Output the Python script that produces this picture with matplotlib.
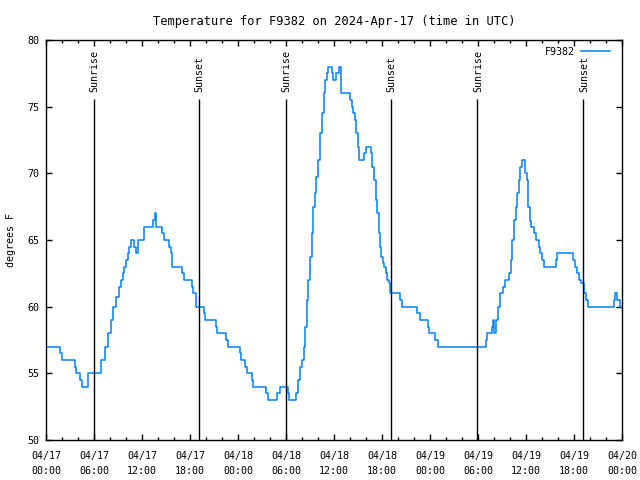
import matplotlib
matplotlib.use('Agg')
import matplotlib.pyplot as plt

# hours since 2024-04-17 00:00 UTC, step starts
hours = [0, 1.7, 2.0, 3.6, 3.75, 4.2, 4.5, 5.2, 6.9, 7.4, 7.8, 8.1, 8.4, 8.75, 9.1, 9.35,
         9.6, 9.8, 10.0, 10.2, 10.35, 10.6, 11.0, 11.2, 11.45, 12.25, 13.4, 13.6, 13.8,
         14.5, 14.7, 15.4, 15.6, 15.8, 17.0, 17.2, 18.2, 18.4, 18.8, 19.7, 19.9, 21.2,
         21.4, 22.5, 22.7, 24.25, 24.4, 24.9, 25.1, 25.7, 25.9, 27.5, 27.7, 28.9, 29.2,
         30.2, 30.4, 31.25, 31.5, 31.8, 32.0, 32.2, 32.4, 32.6, 32.8, 33.0, 33.2, 33.4,
         33.6, 33.8, 34.0, 34.25, 34.5, 34.7, 34.9, 35.1, 35.3, 35.8, 35.9, 36.3, 36.6,
         36.85, 38.0, 38.2, 38.4, 38.6, 38.8, 39.0, 39.1, 39.8, 40.0, 40.6, 40.8, 41.0,
         41.2, 41.4, 41.6, 41.75, 41.9, 42.1, 42.3, 42.5, 42.6, 42.9, 43.0, 44.2, 44.5,
         46.4, 46.7, 47.7, 47.9, 48.6, 49.0, 55.0, 55.1, 55.8, 55.9, 56.05, 56.2, 56.5,
         56.75, 57.1, 57.4, 57.9, 58.1, 58.3, 58.5, 58.7, 58.9, 59.15, 59.3, 59.5, 59.9,
         60.1, 60.3, 60.5, 60.6, 61.0, 61.3, 61.6, 61.8, 62.0, 62.2, 63.7, 63.9, 65.9,
         66.1, 66.4, 66.6, 66.9, 67.2, 67.5, 67.7, 71.0, 71.15, 71.4, 71.7, 72.0]
temps = [57, 56.5, 56, 55.5, 55, 54.5, 54, 55, 56, 57, 58, 59, 60, 60.75, 61.5, 62,
         62.5, 63, 63.5, 64, 64.5, 65, 64.5, 64, 65, 66, 66.5, 67, 66,
         65.5, 65, 64.5, 64, 63, 62.5, 62, 61.5, 61, 60, 59.5, 59, 58.5,
         58, 57.5, 57, 56.5, 56, 55.5, 55, 54.5, 54, 53.5, 53, 53.5, 54,
         53.5, 53, 53.5, 54.5, 55.5, 56, 57, 58.5, 60.5, 62, 63.75, 65.5, 67.5,
         68.5, 69.75, 71, 73, 74.5, 76, 77, 77.5, 78, 77.5, 77, 77.5, 78,
         76, 75.5, 75, 74.5, 74, 73, 72, 71, 71.5, 72, 71.5, 70.5, 69.5,
         68, 67, 65.5, 64.5, 63.75, 63.25, 63, 62.5, 62, 61.75, 61, 60.5, 60,
         59.5, 59, 58.5, 58, 57.5, 57, 57.5, 58, 58.5, 59, 58, 59, 60,
         61, 61.5, 62, 62.5, 63.5, 65, 66.5, 67.5, 68.5, 69.5, 70.5, 71, 70,
         69.5, 67.5, 66.4, 66, 65.5, 65, 64.5, 64, 63.5, 63, 63.5, 64, 63.5,
         63, 62.5, 62, 61.75, 61, 60.5, 60, 60.5, 61, 60.5, 60, 60]

sunrise = [6.0, 30.0, 53.9]
sunset = [19.1, 43.1, 67.15]

xtick_pos = list(range(0, 73, 6))
xtick_labels = ['04/17\n00:00', '04/17\n06:00', '04/17\n12:00', '04/17\n18:00',
                '04/18\n00:00', '04/18\n06:00', '04/18\n12:00', '04/18\n18:00',
                '04/19\n00:00', '04/19\n06:00', '04/19\n12:00', '04/19\n18:00',
                '04/20\n00:00']

plt.rcParams['font.family'] = ['DejaVu Sans Mono']
plt.rcParams['font.size'] = 7.2

fig = plt.figure(figsize=(6.4, 4.8), dpi=100)
ax = fig.add_axes([46 / 640, 1 - 440 / 480, 576 / 640, 400 / 480])

ax.step(hours, temps, where='post', color='#0080ff', lw=1.1, label='F9382')

for h in sunrise:
    ax.vlines(h, 50, 75.6, color='black', lw=1)
    ax.text(h + 0.1, 76.1, 'Sunrise', rotation=90, ha='center', va='bottom')
for h in sunset:
    ax.vlines(h, 50, 75.6, color='black', lw=1)
    ax.text(h + 0.1, 76.1, 'Sunset', rotation=90, ha='center', va='bottom')

ax.set_xlim(0, 72)
ax.set_ylim(50, 80)
ax.set_xticks(xtick_pos)
ax.set_xticklabels(xtick_labels, linespacing=1.55)
ax.set_xticks(range(0, 73, 2), minor=True)
ax.set_yticks(range(50, 81, 5))
ax.tick_params(which='both', direction='in', top=True, right=True, color='black')
ax.tick_params(which='major', length=4, width=1)
ax.tick_params(axis='x', which='major', pad=8)
ax.tick_params(axis='y', which='major', pad=5)
ax.tick_params(which='minor', length=2.5, width=1)
for s in ax.spines.values():
    s.set_linewidth(1)

ax.set_ylabel('degrees F', labelpad=8)
ax.set_title('Temperature for F9382 on 2024-Apr-17 (time in UTC)', pad=11)
ax.legend(loc='upper right', frameon=False, markerfirst=False, handlelength=2.9,
          bbox_to_anchor=(1 - 5 / 576, 1), borderaxespad=0.3, handletextpad=0.6)

fig.savefig('out.png', dpi=100)
